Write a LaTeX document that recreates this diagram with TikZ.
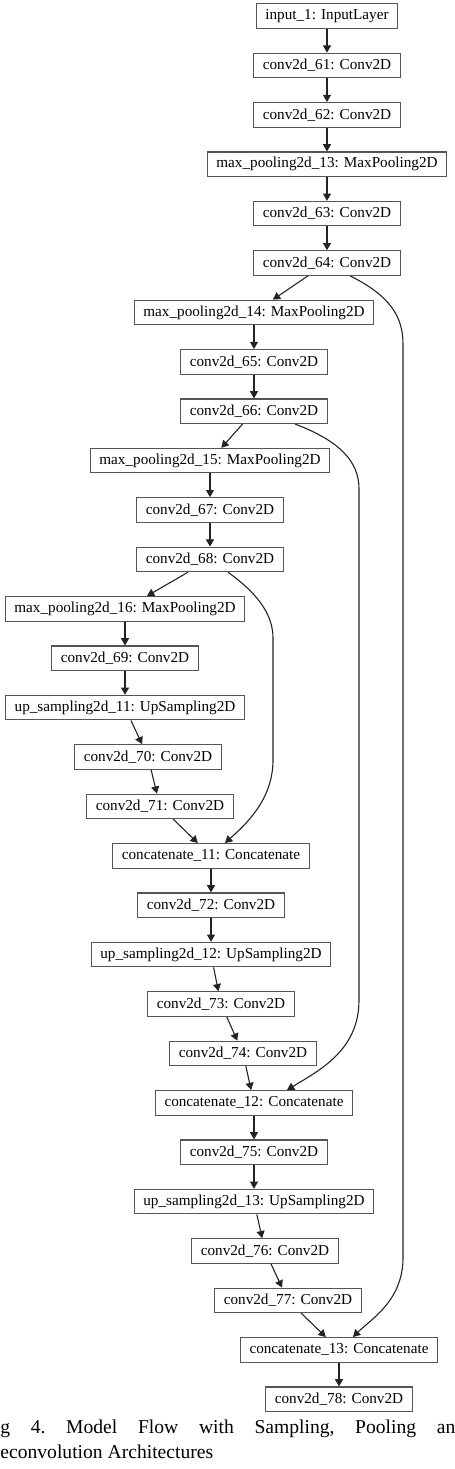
\documentclass[tikz,border=0pt]{standalone}
\usepackage{fontspec}
\setmainfont{Liberation Serif}
\usepackage{tikz}
\usetikzlibrary{positioning,arrows.meta}
\definecolor{BoxLine}{RGB}{85,85,85}
\definecolor{EdgeLine}{RGB}{35,35,35}

\begin{document}
\begin{tikzpicture}[
node distance=11.9pt,
layer/.style={rectangle,draw=BoxLine,line width=0.55pt,inner xsep=4.5pt,inner ysep=1pt,minimum height=12.25pt,font=\fontsize{7.6}{9}\selectfont},
arrow/.style={-{Triangle[length=3.6pt,width=4pt]},line width=0.55pt,draw=EdgeLine},
captext/.style={font=\fontsize{9.8}{12.5}\selectfont,inner sep=0pt,anchor=base west}
]
\useasboundingbox (0,0) rectangle (227.5pt,-734.5pt);
% encoder
\node[layer] (inp) at (163.5pt,-8pt) {input\_1: InputLayer};
\node[layer,below=of inp] (c61) {conv2d\_61: Conv2D};
\node[layer,below=of c61] (c62) {conv2d\_62: Conv2D};
\node[layer,below=of c62] (mp13) {max\_pooling2d\_13: MaxPooling2D};
\node[layer,below=of mp13] (c63) {conv2d\_63: Conv2D};
\node[layer,below=of c63] (c64) {conv2d\_64: Conv2D};
\node[layer,below=of c64,xshift=-36.5pt] (mp14) {max\_pooling2d\_14: MaxPooling2D};
\node[layer,below=of mp14] (c65) {conv2d\_65: Conv2D};
\node[layer,below=of c65] (c66) {conv2d\_66: Conv2D};
\node[layer,below=of c66,xshift=-22pt] (mp15) {max\_pooling2d\_15: MaxPooling2D};
\node[layer,below=of mp15] (c67) {conv2d\_67: Conv2D};
\node[layer,below=of c67] (c68) {conv2d\_68: Conv2D};
\node[layer,below=of c68,xshift=-42.5pt] (mp16) {max\_pooling2d\_16: MaxPooling2D};
\node[layer,below=of mp16] (c69) {conv2d\_69: Conv2D};
% decoder
\node[layer,below=of c69] (up11) {up\_sampling2d\_11: UpSampling2D};
\node[layer,below=of up11,xshift=11.5pt] (c70) {conv2d\_70: Conv2D};
\node[layer,below=of c70,xshift=6pt] (c71) {conv2d\_71: Conv2D};
\node[layer,below=of c71,xshift=25.5pt] (cat11) {concatenate\_11: Concatenate};
\node[layer,below=of cat11] (c72) {conv2d\_72: Conv2D};
\node[layer,below=of c72] (up12) {up\_sampling2d\_12: UpSampling2D};
\node[layer,below=of up12,xshift=5pt] (c73) {conv2d\_73: Conv2D};
\node[layer,below=of c73,xshift=11pt] (c74) {conv2d\_74: Conv2D};
\node[layer,below=of c74,xshift=5.5pt] (cat12) {concatenate\_12: Concatenate};
\node[layer,below=of cat12] (c75) {conv2d\_75: Conv2D};
\node[layer,below=of c75] (up13) {up\_sampling2d\_13: UpSampling2D};
\node[layer,below=of up13,xshift=5.5pt] (c76) {conv2d\_76: Conv2D};
\node[layer,below=of c76,xshift=11.5pt] (c77) {conv2d\_77: Conv2D};
\node[layer,below=of c77,xshift=25.5pt] (cat13) {concatenate\_13: Concatenate};
\node[layer,below=of cat13] (c78) {conv2d\_78: Conv2D};
\foreach \a/\b in {inp/c61,c61/c62,c62/mp13,mp13/c63,c63/c64,c64/mp14,mp14/c65,c65/c66,c66/mp15,mp15/c67,c67/c68,c68/mp16,mp16/c69,c69/up11,up11/c70,c70/c71,c71/cat11,cat11/c72,c72/up12,up12/c73,c73/c74,c74/cat12,cat12/c75,c75/up13,up13/c76,c76/c77,c77/cat13,cat13/c78} \draw[arrow] (\a)--(\b);
% skip connections
\draw[arrow] ([xshift=11.5pt]c64.south) .. controls +(20pt,-10pt) and +(0,14pt) .. ([xshift=38pt,yshift=-34.25pt]c64.south) -- ([xshift=69pt,yshift=-3.5pt]c76.center) .. controls +(0,-21.5pt) and +(8.5pt,8.5pt) .. ([xshift=7pt]cat13.north);
\draw[arrow] ([xshift=20.5pt]c66.south) .. controls +(22.5pt,-8.5pt) and +(0,13.5pt) .. ([xshift=52.5pt,yshift=-32.4pt]c66.south) -- ([xshift=69pt,yshift=2pt]c73.center) .. controls +(0,-25pt) and +(16.5pt,10pt) .. ([xshift=16.5pt]cat12.north);
\draw[arrow] ([xshift=9pt]c68.south) .. controls +(16pt,-11.5pt) and +(0,11pt) .. ([xshift=31.5pt,yshift=-33pt]c68.south) -- ([xshift=62.5pt,yshift=-1.5pt]c70.center) .. controls +(0,-20pt) and +(10pt,9pt) .. ([xshift=7pt]cat11.north);
% caption
\node[captext] (capa) at (0,-716.5pt) {\makebox[227.5pt][l]{g\hfill 4.\hfill Model\hfill Flow\hfill with\hfill Sampling,\hfill Pooling\hfill an}};
\node[captext] (capb) at (0,-729pt) {econvolution Architectures};
\end{tikzpicture}
\end{document}
